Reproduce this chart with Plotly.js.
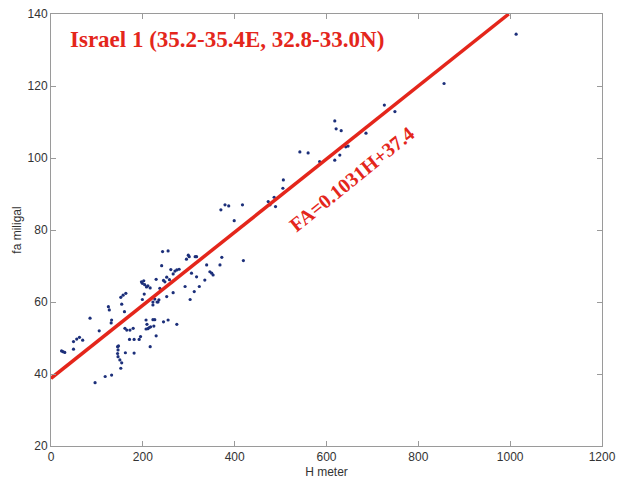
<!DOCTYPE html>
<html>
<head>
<meta charset="utf-8">
<script src="https://cdn.plot.ly/plotly-3.0.1.min.js"></script>
<style>html,body{margin:0;padding:0;background:#fff;}</style>
</head>
<body>
<div id="chart" style="width:617px;height:488px;"></div>
<script>
// Observed data: H (meter) vs free-air anomaly (miligal)
const heightM = [23,26,30,49,49,56,62,69,85,105,96,118,132,
  125,127,131,132,152,154,157,163,160,161,165,172,179,
  145,147,146,145,146,150,154,152,162,171,181,192,181,195,
  197,199,202,204,208,211,216,199,203,
  207,209,207,211,214,217,222,224,226,216,229,
  222,226,231,233,235,222,
  229,241,243,255,237,
  245,248,252,258,261,266,270,274,279,
  252,266,274,255,245,
  292,303,312,317,323,335,339,295,301,314,317,346,350,353,368,372,299,306,
  370,379,387,417,399,419,473,477,486,489,505,506,
  542,560,585,618,621,632,686,642,647,629,618,726,749,856,1013];
const faMgal = [46.4,46.2,46.0,46.9,49.0,49.7,50.2,49.4,55.5,52.0,37.6,39.3,39.7,
  58.7,57.8,54.2,55.0,61.3,59.4,61.9,62.4,57.3,52.7,52.2,52.2,52.7,
  47.6,47.8,46.7,45.7,44.8,43.9,43.1,41.6,45.9,49.6,49.6,49.6,45.8,50.4,
  65.6,65.2,65.9,64.8,64.2,64.5,63.9,60.7,62.2,
  55.0,53.8,52.5,52.6,52.9,53.1,55.1,53.3,55.1,47.6,50.6,
  60.0,60.8,60.0,60.0,60.6,59.2,
  66.3,70.1,74.0,74.2,63.8,
  66.0,65.6,66.9,66.2,69.0,67.8,68.6,68.9,69.1,
  61.5,62.6,53.8,55.0,54.5,
  64.3,60.7,62.9,67.0,64.3,66.1,70.3,71.9,72.6,72.6,72.6,68.4,68.0,67.5,70.3,72.4,73.0,68.0,
  85.6,87.0,86.7,87.0,82.6,71.5,87.9,87.0,89.1,86.5,91.6,93.9,
  101.7,101.4,99.0,110.3,108.1,107.6,106.9,103.1,103.3,100.8,99.4,114.7,112.9,120.7,134.4];
// Fitted line as drawn in the picture (end points)
const fitH = [0, 997];
const fitFA = [38.8, 140];
const xTicks = [0,200,400,600,800,1000,1200];
const yTicks = [20,40,60,80,100,120,140];
const titleText = "Israel 1 (35.2-35.4E, 32.8-33.0N)";
const eqText = "FA=0.1031H+37.4";

const red = "#e4261b";
const axisCommon = {
  showline: true, linecolor: "#9a9a9a", linewidth: 1, mirror: "ticks",
  ticks: "inside", ticklen: 5, tickcolor: "#9a9a9a", showgrid: false, zeroline: false,
  tickfont: {family: "Liberation Sans, Arial, sans-serif", size: 12, color: "#333"}
};
const data = [
  {x: heightM, y: faMgal, type: "scatter", mode: "markers",
   marker: {size: 3.2, color: "#1c2f7a"}, hoverinfo: "x+y"},
  {x: fitH, y: fitFA, type: "scatter", mode: "lines",
   line: {color: red, width: 3.5}}
];
const layout = {
  width: 617, height: 488, showlegend: false,
  paper_bgcolor: "#fff", plot_bgcolor: "#fff",
  margin: {l: 51, r: 15, t: 14, b: 42},
  xaxis: Object.assign({}, axisCommon, {range: [0,1200], tickvals: xTicks, ticktext: xTicks.map(String),
    title: {text: "H meter", font: {family: "Liberation Sans, Arial, sans-serif", size: 12, color: "#333"}, standoff: 4}}),
  yaxis: Object.assign({}, axisCommon, {range: [20,140], tickvals: yTicks, ticktext: yTicks.map(String),
    title: {text: "fa miligal", font: {family: "Liberation Sans, Arial, sans-serif", size: 12, color: "#333"}, standoff: 3}}),
  annotations: [
    {x: 37, y: 132.8, xref: "x", yref: "y", xanchor: "left", yanchor: "middle", showarrow: false,
     text: "<b>" + titleText + "</b>", font: {family: "Liberation Serif, Times New Roman, serif", size: 23, color: red}},
    {x: 655, y: 94.2, xref: "x", yref: "y", xanchor: "center", yanchor: "middle", showarrow: false,
     textangle: -39, text: "<b>" + eqText + "</b>", font: {family: "Liberation Serif, Times New Roman, serif", size: 20, color: red}}
  ]
};
Plotly.newPlot("chart", data, layout, {displayModeBar: false, staticPlot: true});
</script>
</body>
</html>
